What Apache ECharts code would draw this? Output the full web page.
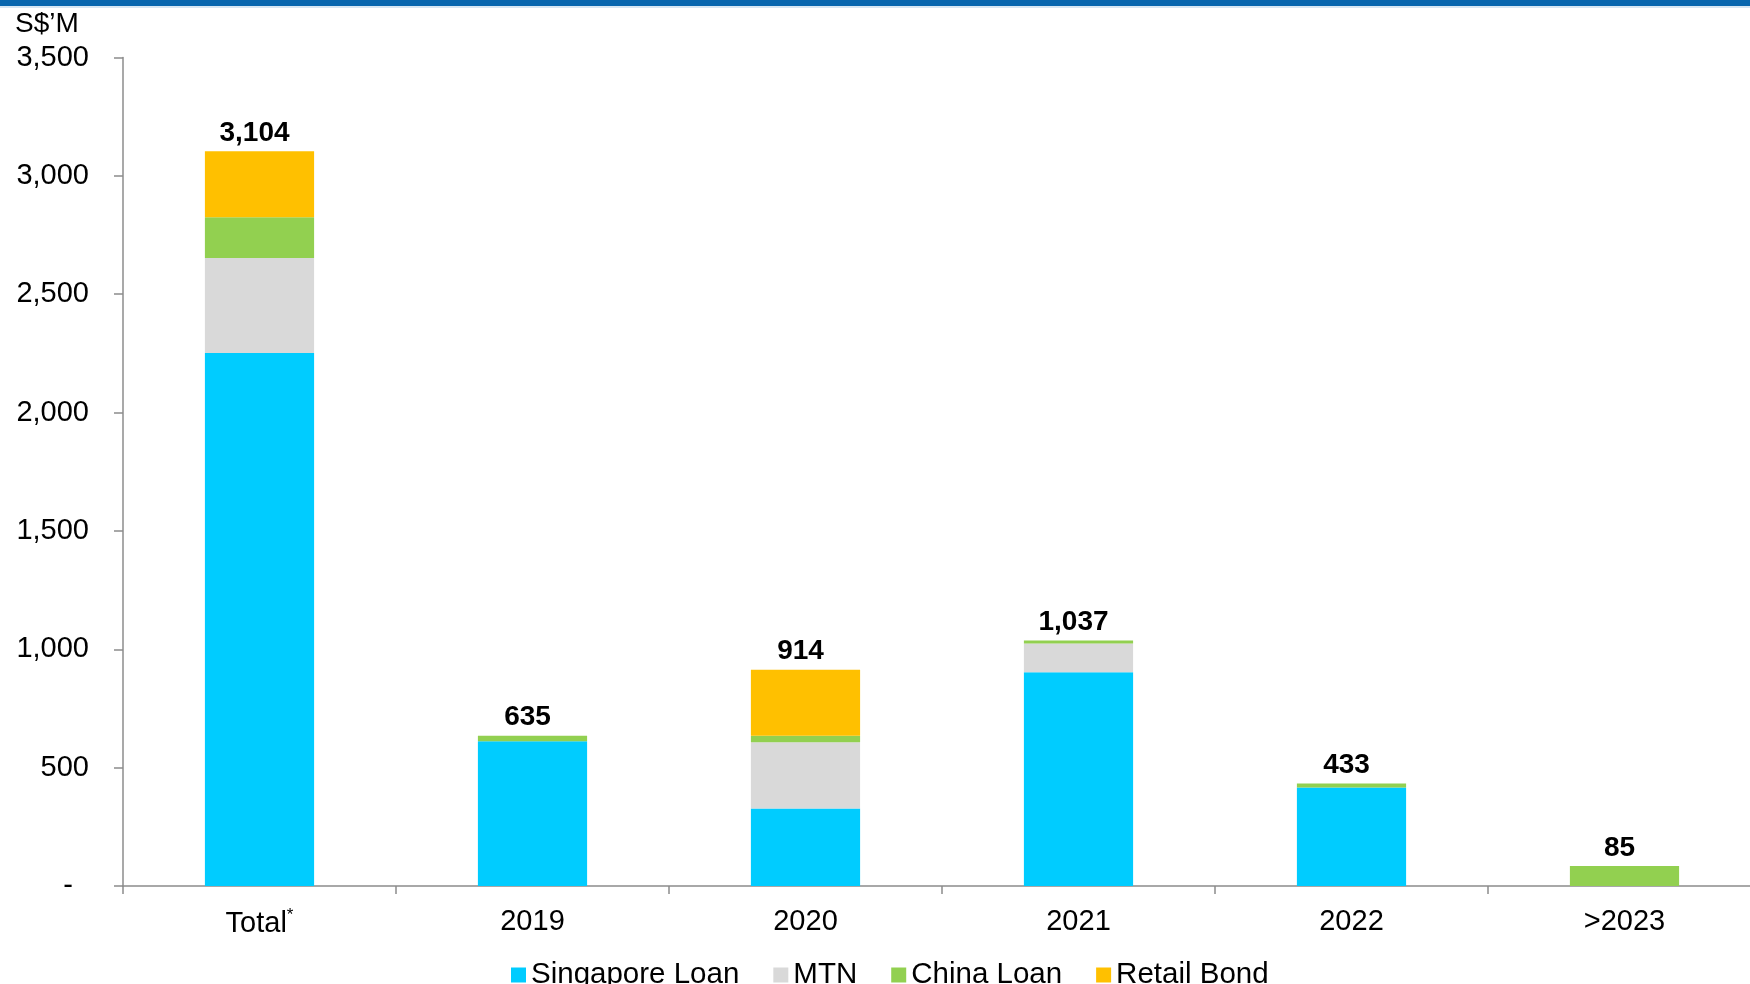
<!DOCTYPE html>
<html><head><meta charset="utf-8">
<style>html,body{margin:0;padding:0;background:#fff}#c{width:1750px;height:984px}</style>
<script src="https://cdn.jsdelivr.net/npm/echarts@6/dist/echarts.min.js"></script>
</head><body><div id="c"></div>
<script>
const categories = ['Total*', '2019', '2020', '2021', '2022', '>2023'];
const singaporeLoan = [2252, 612, 327, 903, 416, 0];
const mtn = [401, 0, 280, 121, 0, 0];
const chinaLoan = [172, 23, 28, 13, 17, 85];
const retailBond = [279, 0, 279, 0, 0, 0];
const totals = [3104, 635, 914, 1037, 433, 85];
const yTicks = [0, 500, 1000, 1500, 2000, 2500, 3000, 3500];

const FONT = '"Liberation Sans", Arial, sans-serif';
const chart = echarts.init(document.getElementById('c'));
const mk = (name, data, color) => ({
  name, type: 'bar', stack: 'a', data, barWidth: '40%',
  itemStyle: {color}, emphasis: {disabled: true}
});
chart.setOption({
  animation: false,
  textStyle: {fontFamily: FONT},
  graphic: [
    {type: 'rect', left: 0, top: 0, shape: {width: 1750, height: 6}, style: {fill: '#0866AE'}},
    {type: 'rect', left: 0, top: 6, shape: {width: 1750, height: 2}, style: {fill: '#D6E6F3'}},
    {type: 'text', left: 15, top: 10, style: {text: 'S$\u2019M', font: '28px ' + FONT, fill: '#000'}}
  ],
  grid: {left: 123, top: 57.5, bottom: 98, width: 1638, containLabel: false, outerBoundsMode: 'none'},
  legend: {
    data: ['Singapore Loan', 'MTN', 'China Loan', 'Retail Bond'],
    left: 506, top: 955, itemWidth: 15, itemHeight: 15, itemGap: 34,
    icon: 'rect',
    textStyle: {fontSize: 29.5, color: '#000', fontFamily: FONT}
  },
  xAxis: {
    type: 'category', data: categories,
    axisLine: {lineStyle: {color: '#8c8c8c', width: 1.5}},
    axisTick: {show: true, length: 8, lineStyle: {color: '#8c8c8c', width: 1.5}},
    axisLabel: {
      margin: 21, fontSize: 29, color: '#000', fontFamily: FONT,
      formatter: v => v === 'Total*' ? 'Total{s|*}' : v,
      rich: {s: {fontSize: 17, verticalAlign: 'top', padding: [0, 0, 16, 0], color: '#000'}}
    }
  },
  yAxis: {
    type: 'value', min: 0, max: 3500, interval: 500,
    splitLine: {show: false},
    axisLine: {show: true, lineStyle: {color: '#8c8c8c', width: 1.5}},
    axisTick: {show: true, length: 9, lineStyle: {color: '#8c8c8c', width: 1.5}},
    axisLabel: {
      margin: 34, fontSize: 29, color: '#000', fontFamily: FONT,
      formatter: v => v === 0 ? '-  ' : v.toLocaleString('en-US')
    }
  },
  series: [
    mk('Singapore Loan', singaporeLoan, '#00CCFF'),
    mk('MTN', mtn, '#D9D9D9'),
    mk('China Loan', chinaLoan, '#92D050'),
    mk('Retail Bond', retailBond, '#FFC000'),
    {
      name: 'Total', type: 'bar', data: totals, barWidth: '40%', barGap: '-100%', z: 1,
      itemStyle: {color: 'rgba(0,0,0,0)'}, emphasis: {disabled: true},
      label: {
        show: true, position: 'top', distance: 4, offset: [-5, 0],
        fontSize: 28, fontWeight: 'bold', color: '#000', fontFamily: FONT,
        formatter: p => p.value.toLocaleString('en-US')
      }
    }
  ]
});
</script></body></html>
